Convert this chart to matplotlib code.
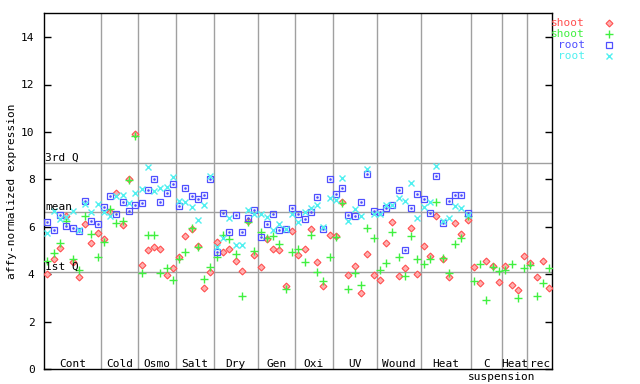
import matplotlib
matplotlib.use('Agg')
import matplotlib.pyplot as plt
from matplotlib.lines import Line2D
from matplotlib.transforms import blended_transform_factory

# группы образцов и число образцов в каждой
groups = ['Cont', 'Cold', 'Osmo', 'Salt', 'Dry', 'Gen', 'Oxi', 'UV', 'Wound', 'Heat', 'C', 'Heat', 'rec']
group_sizes = [9, 6, 6, 6, 7, 6, 6, 7, 7, 8, 5, 4, 4]

shoot_red = [4.01, 4.64, 5.10, 6.45, 4.51, 3.89, 6.12, 5.31, 5.74,
             5.50, 6.62, 7.42, 6.07, 8.01, 9.91,
             4.39, 5.03, 5.16, 5.08, 3.96, 4.27,
             4.72, 5.61, 5.90, 5.19, 3.42, 4.09,
             5.36, 4.93, 5.08, 4.55, 4.13, 6.24, 4.81,
             4.30, 5.48, 5.08, 5.02, 3.50, 5.82,
             4.81, 5.06, 5.90, 4.51, 3.50, 5.65,
             5.61, 7.04, 3.96, 4.34, 3.21, 4.85, 3.96,
             3.75, 5.31, 6.20, 3.92, 4.26, 5.95, 4.01,
             5.19, 4.77, 6.45, 4.64, 3.88, 6.16, 5.69, 6.28,
             4.30, 3.63, 4.55, 4.34, 3.67,
             4.37, 3.54, 3.33, 4.77,
             4.47, 3.88, 4.55, 3.42]
shoot_green = [4.55, 4.89, 5.31, 6.26, 4.65, 4.19, 6.47, 5.69, 4.74,
               5.36, 6.76, 6.16, 6.26, 7.97, 9.84,
               4.05, 5.65, 5.65, 4.05, 4.27, 3.77,
               4.65, 4.93, 5.95, 5.16, 3.80, 4.30,
               4.72, 5.65, 5.48, 4.85, 3.08, 6.20, 4.98,
               5.78, 5.53, 5.61, 5.27, 3.37, 4.93,
               5.06, 4.51, 5.65, 4.09, 3.71, 4.72,
               5.57, 7.00, 3.37, 4.05, 3.54, 5.95, 5.53,
               4.18, 4.47, 5.78, 4.72, 3.92, 5.61, 4.64,
               4.43, 4.64, 7.04, 4.68, 4.05, 5.27, 5.53, 6.45,
               3.71, 4.43, 2.91, 4.30, 4.13,
               4.18, 4.43, 2.99, 4.26,
               4.39, 3.08, 3.63, 4.26]
root_blue = [6.20, 5.86, 6.50, 6.03, 5.95, 5.83, 7.09, 6.24, 6.12,
             6.83, 7.30, 6.54, 7.04, 6.66, 6.92,
             7.00, 7.55, 8.01, 7.04, 7.42, 7.80,
             6.87, 7.63, 7.30, 7.17, 7.34, 8.01,
             4.93, 6.58, 5.78, 6.50, 5.78, 6.37, 6.71,
             5.57, 6.12, 6.54, 5.86, 5.90, 6.79,
             6.54, 6.33, 6.62, 7.25, 5.90, 8.01,
             7.38, 7.63, 6.50, 6.45, 7.04, 8.22, 6.66,
             6.62, 6.79, 6.92, 7.55, 5.02, 6.79, 7.38,
             7.17, 6.58, 8.14, 6.16, 7.09, 7.34, 7.34, 6.58]
root_cyan = [5.74, 6.68, 6.33, 6.40, 6.68, 5.86, 6.96, 6.62, 6.96,
             6.62, 6.45, 7.32, 7.35, 7.00, 7.42,
             7.59, 8.53, 7.51, 7.63, 7.68, 8.10,
             7.09, 7.04, 6.83, 6.28, 6.92, 8.14,
             5.15, 5.53, 6.37, 5.23, 5.23, 6.71, 6.54,
             6.54, 6.41, 5.86, 6.12, 5.90, 6.54,
             6.20, 6.62, 6.79, 6.92, 5.99, 7.21,
             7.13, 8.06, 6.24, 6.75, 6.45, 8.44, 6.54,
             6.54, 6.92, 6.92, 7.21, 7.09, 7.84, 6.37,
             6.83, 7.04, 8.58, 6.24, 6.37, 6.87, 6.79, 6.50]

q1, q_mean, q3 = 4.09, 6.62, 8.69

red = '#ff5050'
green = '#40f040'
blue = '#5050ff'
cyan = '#50f0f0'
grey = '#a0a0a0'

plt.rcParams['font.family'] = 'DejaVu Sans Mono'
plt.rcParams['font.size'] = 8

fig = plt.figure(figsize=(6.4, 3.84), dpi=100)
ax = fig.add_axes([44.3 / 640, (384 - 369.3) / 384, 508 / 640, 356 / 384])

n = sum(group_sizes)
x_shoot = list(range(1, n + 1))
x_root = list(range(1, len(root_blue) + 1))

# сетка: квартили и границы групп
for q in (q1, q_mean, q3):
    ax.axhline(q, color=grey, lw=1, zorder=1)
edges = []
s = 0
for g in group_sizes[:-1]:
    s += g
    edges.append(s + 0.5)
for e in edges:
    ax.axvline(e, color=grey, lw=1, zorder=1)

red_kw = dict(marker='D', ms=3.5, mfc='#ffb0b0', mec=red, mew=0.8)
green_kw = dict(marker='+', ms=5.2, color=green, mew=1)
blue_kw = dict(marker='s', ms=4.3, mfc='none', mec=blue, mew=0.9)
cyan_kw = dict(marker='x', ms=4.3, color=cyan, mew=1)

ax.plot(x_shoot, shoot_red, ls='none', zorder=3, **red_kw)
ax.plot(x_shoot, shoot_green, ls='none', zorder=3, **green_kw)
ax.plot(x_root, root_blue, ls='none', zorder=3, **blue_kw)
ax.plot(x_root, root_blue, ls='none', marker='s', ms=0.8, color=blue, zorder=3)
ax.plot(x_root, root_cyan, ls='none', zorder=3, **cyan_kw)

ax.set_xlim(0.5, n + 0.5)
ax.set_ylim(0, 15)
ax.set_xticks([])
ax.set_yticks(range(0, 15, 2))
ax.tick_params(axis='y', direction='in', length=5, pad=7, right=True, width=1)
for sp in ax.spines.values():
    sp.set_linewidth(1)
ax.set_ylabel('affy-normalized expression', labelpad=3)

ax.text(0.6, q3, '3rd Q', va='bottom', ha='left')
ax.text(0.6, q_mean, 'mean', va='bottom', ha='left')
ax.text(0.6, q1, '1st Q', va='bottom', ha='left')

# подписи групп
tr = blended_transform_factory(ax.transData, ax.transAxes)
start = 0.5
for name, g in zip(groups, group_sizes):
    ax.text(start + g / 2, 0.016, name, transform=tr, ha='center', va='center')
    start += g
ax.text(73.5, -0.022, 'suspension', transform=tr, ha='center', va='center')

# легенда справа
leg = [('shoot', red, red_kw), ('shoot', green, green_kw),
       ('root', blue, blue_kw), ('root', cyan, cyan_kw)]
for k, (lab, c, kw) in enumerate(leg):
    yy = 1 - (23.3 + 11 * k) / 384
    fig.text(585 / 640, yy, lab, color=c, ha='right', va='center')
    fig.add_artist(Line2D([609.3 / 640], [yy], transform=fig.transFigure, ls='none', **kw))

fig.savefig('out.png', dpi=100)
